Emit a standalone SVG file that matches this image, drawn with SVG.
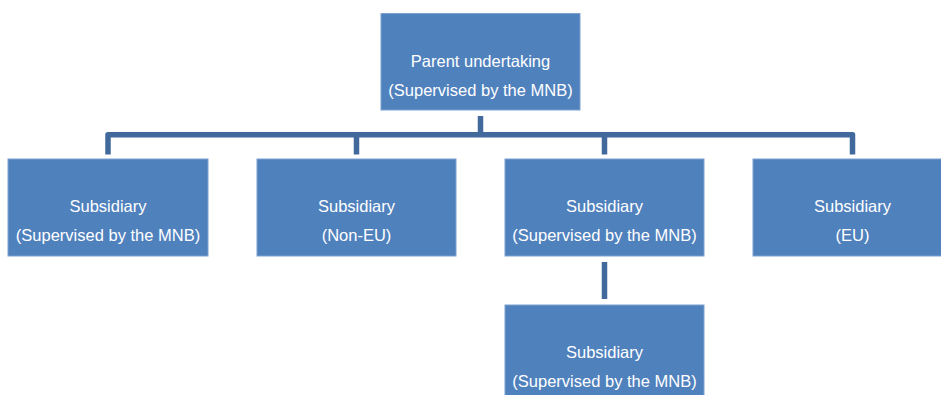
<svg xmlns="http://www.w3.org/2000/svg" width="941" height="395" viewBox="0 0 941 395">
<style>
.box{fill:#4F81BD;stroke:#7EA1CF;stroke-width:1}
.lbl{font-family:"Liberation Sans",Arial,sans-serif;font-size:16.5px;fill:#FFFFFF;text-anchor:middle}
.conn{fill:none;stroke:#41699C;stroke-width:5.5;stroke-linejoin:round}
</style>
<rect width="941" height="395" fill="#FFFFFF"/>
<g id="connectors">
<path class="conn" d="M480.5,116 V134.8"/>
<path class="conn" d="M108,154.5 V134.8 H852.5 V154.5"/>
<path class="conn" d="M356.5,134.8 V154.5"/>
<path class="conn" d="M604.5,134.8 V154.5"/>
<path class="conn" d="M604.5,262 V299"/>
</g>
<g id="parent">
<rect class="box" x="381" y="13.5" width="199" height="96.5"/>
<text class="lbl" x="480.5" y="67">Parent undertaking</text>
<text class="lbl" x="480.5" y="95.5">(Supervised by the MNB)</text>
</g>
<g id="sub1">
<rect class="box" x="8" y="159" width="200" height="97"/>
<text class="lbl" x="108" y="212">Subsidiary</text>
<text class="lbl" x="108" y="241">(Supervised by the MNB)</text>
</g>
<g id="sub2">
<rect class="box" x="257" y="159" width="199" height="97"/>
<text class="lbl" x="356.5" y="212">Subsidiary</text>
<text class="lbl" x="356.5" y="241">(Non-EU)</text>
</g>
<g id="sub3">
<rect class="box" x="505" y="159" width="199" height="97"/>
<text class="lbl" x="604.5" y="212">Subsidiary</text>
<text class="lbl" x="604.5" y="241">(Supervised by the MNB)</text>
</g>
<g id="sub4">
<rect class="box" x="753" y="159" width="199" height="97"/>
<text class="lbl" x="852.5" y="212">Subsidiary</text>
<text class="lbl" x="852.5" y="241">(EU)</text>
</g>
<g id="sub5">
<rect class="box" x="505" y="305" width="199" height="97"/>
<text class="lbl" x="604.5" y="358">Subsidiary</text>
<text class="lbl" x="604.5" y="387">(Supervised by the MNB)</text>
</g>
</svg>
